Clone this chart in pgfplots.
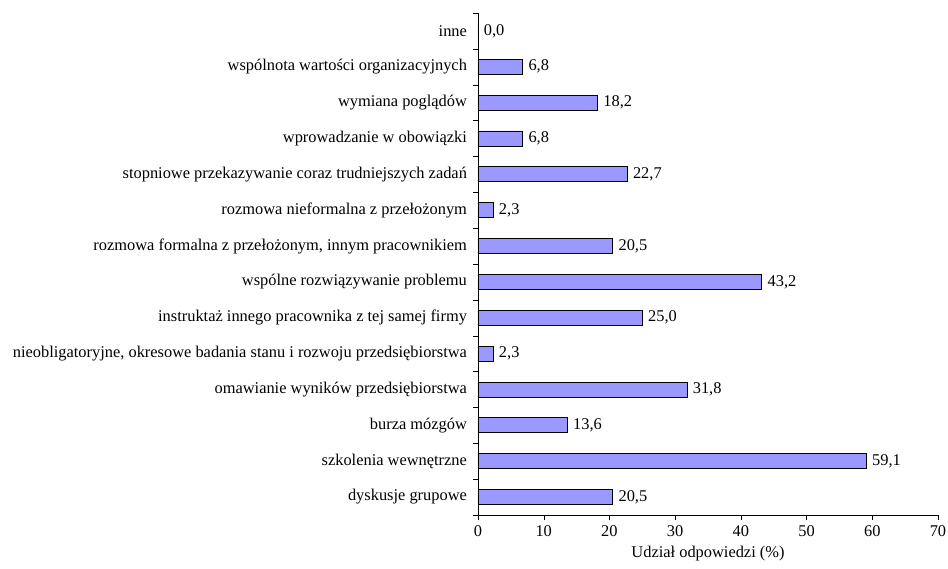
\documentclass[border=0pt]{standalone}
\usepackage{fontspec}
\setmainfont{Liberation Serif}
\usepackage{pgfplots}
\pgfplotsset{compat=1.18}
\definecolor{barfill}{HTML}{9999FF}
\newcommand{\lblfont}{\fontsize{12.3pt}{14pt}\selectfont}
\begin{document}
\lblfont
\begin{tikzpicture}
% page frame: axis box sits at the origin, margins leave room for labels
\useasboundingbox (-358.5pt,-39.75pt) rectangle (352.5pt,386.25pt);
\begin{axis}[
  at={(0,0)}, anchor=south west,
  scale only axis,
  width=345pt, height=376.5pt,
  xbar, bar width=11.25pt,
  xmin=0, xmax=70,
  ymin=-0.5, ymax=13.5,
  xtick={0,10,...,70},
  ytick={-0.5,0.5,...,13.5},
  yticklabels={},
  extra y ticks={0,...,13},
  extra y tick labels={
    {dyskusje grupowe\ },
    {szkolenia wewnętrzne},
    {burza mózgów},
    {omawianie wyników przedsiębiorstwa\ },
    {nieobligatoryjne, okresowe badania stanu i rozwoju przedsiębiorstwa},
    {instruktaż innego pracownika z tej samej firmy},
    {wspólne rozwiązywanie problemu},
    {rozmowa formalna z przełożonym, innym pracownikiem\ },
    {rozmowa nieformalna z przełożonym},
    {stopniowe przekazywanie coraz trudniejszych zadań\ },
    {wprowadzanie w obowiązki},
    {wymiana poglądów},
    {wspólnota wartości organizacyjnych},
    {inne}},
  extra y tick style={major tick length=0pt, tick style={draw=none},
    yticklabel style={xshift=-4pt}},
  axis x line*=bottom,
  axis y line*=left,
  axis line style={-, black},
  tick align=outside,
  tick style={black},
  major tick length=4pt,
  tick label style={font=\lblfont},
  /pgf/number format/assume math mode=true,
  xlabel={Udział odpowiedzi (\%)},
  xlabel style={font=\lblfont, yshift=2pt},
  nodes near coords,
  nodes near coords style={font=\lblfont, black,
    /pgf/number format/.cd, fixed, fixed zerofill, precision=1, use comma, assume math mode=true},
  clip=false,
]
\addplot[draw=black, fill=barfill, line width=0.6pt] coordinates {
  (20.5,0) (59.1,1) (13.6,2) (31.8,3) (2.3,4) (25.0,5) (43.2,6)
  (20.5,7) (2.3,8) (22.7,9) (6.8,10) (18.2,11) (6.8,12) (0.0,13)
};
\end{axis}
\end{tikzpicture}
\end{document}
